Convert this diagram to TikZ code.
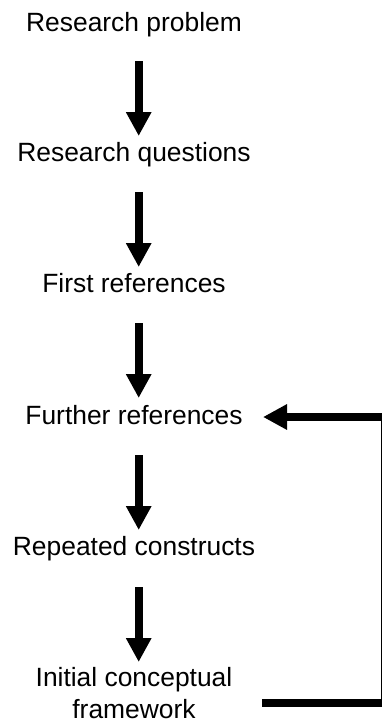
\documentclass[tikz,border=0pt]{standalone}
\usepackage{fontspec}
\setmainfont{Liberation Sans}
\usetikzlibrary{arrows.meta}
\begin{document}
\begin{tikzpicture}[x=1pt,y=-1pt,
  lbl/.style={inner sep=0pt, anchor=base, font=\fontsize{26.4}{31.5}\selectfont, align=center},
  flow/.style={line width=7.7pt, -{Triangle[width=24pt,length=24pt]}},
  fb/.style={line width=7.7pt, line join=miter, -{Triangle[width=24pt,length=24pt]}}]
\useasboundingbox (0,0) rectangle (381,728);
\node[lbl] (rp) at (134,31) {Research problem};
\node[lbl] (rq) at (134,161) {Research questions};
\node[lbl] (fr) at (134,292) {First references};
\node[lbl] (fur) at (134,424) {Further references};
\node[lbl] (rc) at (134,555) {Repeated constructs};
\node[lbl] (init) at (134,718) {Initial conceptual\\framework};
\draw[flow] ([shift={(4.7,30)}]rp.base) -- ([shift={(4.7,-25)}]rq.base);
\draw[flow] ([shift={(4.7,31)}]rq.base) -- ([shift={(4.7,-25)}]fr.base);
\draw[flow] ([shift={(4.7,31)}]fr.base) -- ([shift={(4.7,-26)}]fur.base);
\draw[flow] ([shift={(4.7,31)}]fur.base) -- ([shift={(4.7,-25)}]rc.base);
\draw[flow] ([shift={(4.7,32)}]rc.base) -- ([shift={(4.7,-56)}]init.base);
\coordinate (c1) at (385.2,703);
\coordinate (c2) at (385.2,417);
\draw[fb] ([shift={(128,-15)}]init.base) -- (c1) -- (c2) -- ([shift={(129,-7)}]fur.base);
\end{tikzpicture}
\end{document}
